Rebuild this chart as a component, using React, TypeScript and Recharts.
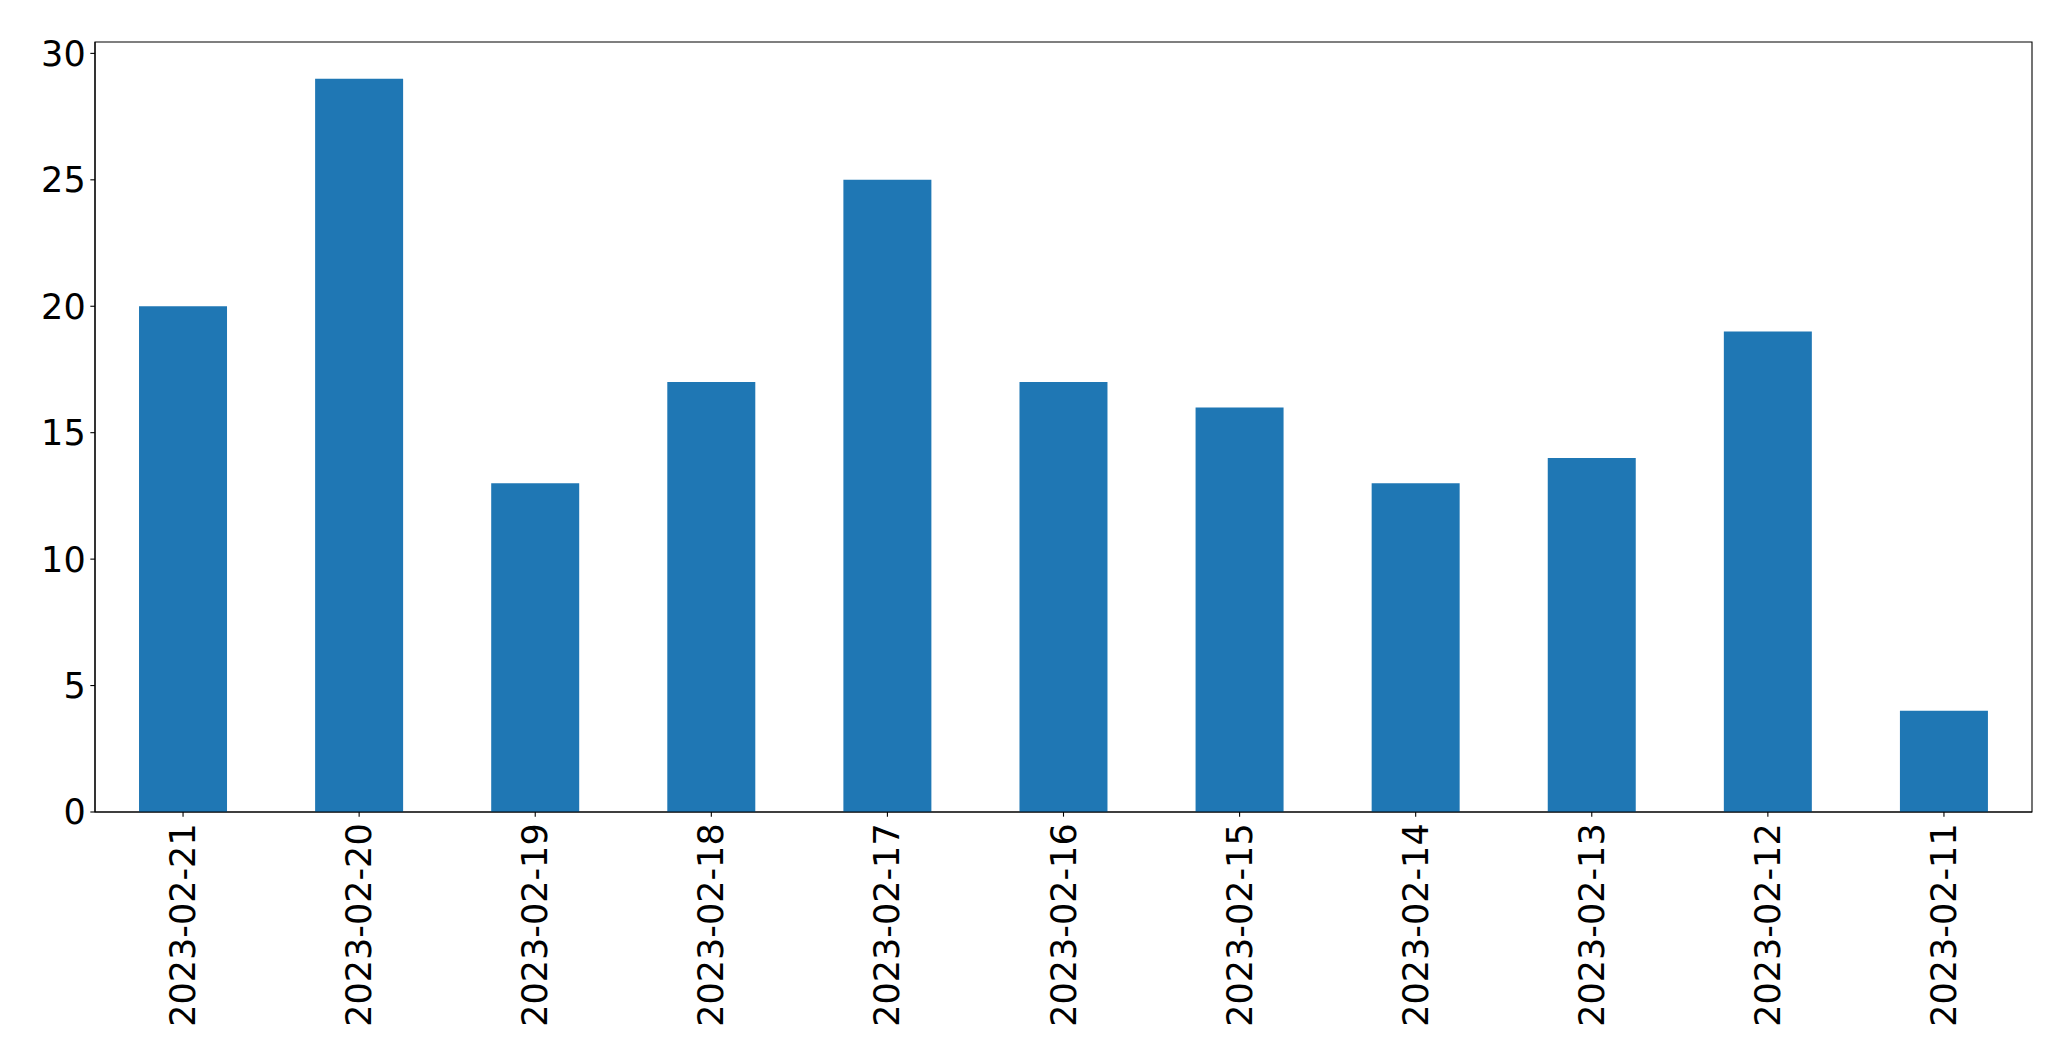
import { Bar, BarChart, ReferenceArea, XAxis, YAxis } from "recharts"

const dates = [
    "2023-02-21",
    "2023-02-20",
    "2023-02-19",
    "2023-02-18",
    "2023-02-17",
    "2023-02-16",
    "2023-02-15",
    "2023-02-14",
    "2023-02-13",
    "2023-02-12",
    "2023-02-11",
]
const counts = [20, 29, 13, 17, 25, 17, 16, 13, 14, 19, 4]
const yTicks = [0, 5, 10, 15, 20, 25, 30]

const data = dates.map((date, i) => ({ date, count: counts[i] }))

const FONT = "'DejaVu Sans', sans-serif"
const FS = 35
const TICK = 4.67
const PAD = 4.67
const YMAX = 30.45

function DateTick(props: any) {
    const { x, y, payload } = props
    return (
        <text
            transform={`translate(${x},${y + PAD}) rotate(-90)`}
            textAnchor="end"
            dominantBaseline="central"
            fontSize={FS}
            fontFamily={FONT}
            fill="#000"
        >
            {payload.value}
        </text>
    )
}

export default function App() {
    return (
        <div style={{ position: "absolute", left: 0, top: 0, width: 2071, height: 1064, background: "#fff" }}>
            <BarChart
                width={2071}
                height={1064}
                data={data}
                margin={{ top: 42, right: 39, bottom: 0, left: 0 }}
                barCategoryGap="25%"
            >
                <XAxis
                    dataKey="date"
                    height={252}
                    interval={0}
                    tick={<DateTick />}
                    tickSize={TICK}
                    tickLine={{ stroke: "#000", strokeWidth: 1.1 }}
                    axisLine={{ stroke: "#000", strokeWidth: 1.1 }}
                />
                <YAxis
                    width={95}
                    domain={[0, YMAX]}
                    ticks={yTicks}
                    interval={0}
                    tickSize={TICK}
                    tickMargin={PAD}
                    tick={{ fontSize: FS, fontFamily: FONT, fill: "#000" }}
                    tickLine={{ stroke: "#000", strokeWidth: 1.1 }}
                    axisLine={{ stroke: "#000", strokeWidth: 1.1 }}
                />
                <Bar dataKey="count" fill="#1f77b4" isAnimationActive={false} />
                <ReferenceArea y1={0} y2={YMAX} fill="none" stroke="#000" strokeWidth={1.1} />
            </BarChart>
        </div>
    )
}
